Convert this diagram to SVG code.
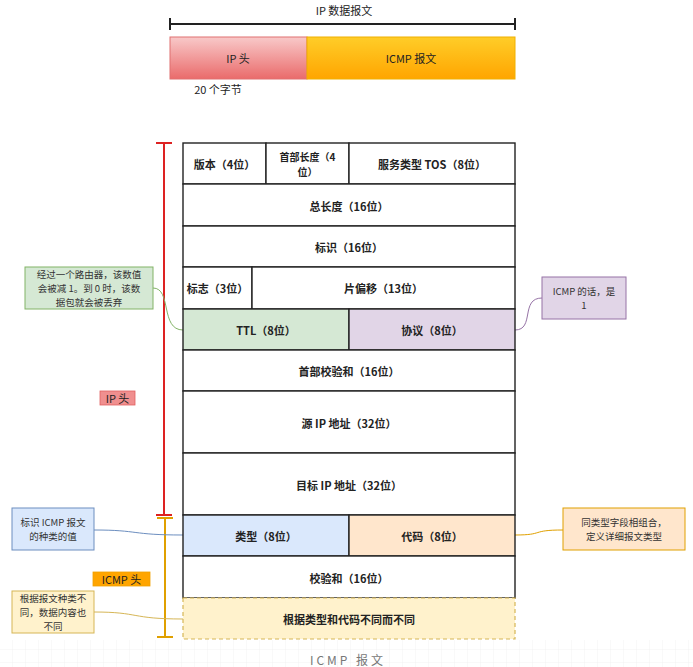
<svg xmlns="http://www.w3.org/2000/svg" width="693" height="667" viewBox="0 0 693 667">
<defs>
<linearGradient id="gRed" x1="0" y1="0" x2="0" y2="1"><stop offset="0" stop-color="#f8c9c9"/><stop offset="1" stop-color="#ea6b6b"/></linearGradient>
<linearGradient id="gOrg" x1="0" y1="0" x2="0" y2="1"><stop offset="0" stop-color="#ffcd28"/><stop offset="1" stop-color="#ffa500"/></linearGradient>
<pattern id="grid" width="13" height="13" patternUnits="userSpaceOnUse"><path d="M13 0V13H0" fill="none" stroke="#f2f2f2" stroke-width="1"/></pattern>
<style>
text{font-family:"Noto Sans CJK SC","Liberation Sans",sans-serif;fill:#222;font-size:11px;text-anchor:middle;dominant-baseline:central}
.b{font-weight:bold}
.s{font-size:10px}
.n{font-size:9.5px;fill:#333}
.cell{stroke:#222;stroke-width:1.4}
.note{stroke-width:1}
.conn{fill:none;stroke-width:1}
</style>
</defs>
<rect x="0" y="640" width="693" height="27" fill="url(#grid)"/>
<g id="top">
<text x="344" y="10">IP 数据报文</text>
<path d="M170 24H515M170 18V30M515 18V30" stroke="#222" stroke-width="2" fill="none"/>
<rect x="170" y="37" width="137" height="42" fill="url(#gRed)" stroke="#e07070"/>
<rect x="307" y="37" width="208" height="42" fill="url(#gOrg)" stroke="#f0b000"/>
<text x="238" y="58">IP 头</text>
<text x="411" y="58">ICMP 报文</text>
<text x="218" y="89">20 个字节</text>
</g>
<g id="brackets">
<path d="M164 143V515M156 143H172M156 515H172" stroke="#d22" stroke-width="2" fill="none"/>
<path d="M165 518V637M157 518H173M157 637H173" stroke="#e0a000" stroke-width="2" fill="none"/>
<rect x="100" y="391" width="35" height="14" fill="#f08f8f" stroke="#e06060" stroke-width="0.8"/>
<text x="117.5" y="398">IP 头</text>
<rect x="93" y="572" width="57" height="14" fill="#ffa500" stroke="#f0a000" stroke-width="0.8"/>
<text x="121.5" y="579">ICMP 头</text>
</g>
<g id="connectors">
<path class="conn" d="M153 288C172 288 160 330 183 330" stroke="#82b366"/>
<path class="conn" d="M542 298C520 298 535 330 515 330" stroke="#9673a6"/>
<path class="conn" d="M94 530C140 530 130 535 183 535" stroke="#6c8ebf"/>
<path class="conn" d="M94 612C140 612 130 619 183 619" stroke="#d6b656"/>
<path class="conn" d="M563 530C530 530 545 535 515 535" stroke="#e0a000"/>
</g>
<g id="ip-header">
<g id="n-version"><rect class="cell" x="183" y="143" width="83" height="41" fill="#fff"/><text class="b" x="224.5" y="164">版本（4位）</text></g>
<g id="n-ihl"><rect class="cell" x="266" y="143" width="83" height="41" fill="#fff"/><text class="b s" x="307.5" y="156">首部长度（4</text><text class="b s" x="307.5" y="171.5">位）</text></g>
<g id="n-tos"><rect class="cell" x="349" y="143" width="166" height="41" fill="#fff"/><text class="b" x="432" y="164">服务类型 TOS（8位）</text></g>
<g id="n-len"><rect class="cell" x="183" y="184" width="332" height="42" fill="#fff"/><text class="b" x="349" y="206">总长度（16位）</text></g>
<g id="n-id"><rect class="cell" x="183" y="226" width="332" height="41" fill="#fff"/><text class="b" x="349" y="247">标识（16位）</text></g>
<g id="n-flags"><rect class="cell" x="183" y="267" width="69" height="42" fill="#fff"/><text class="b" x="217.5" y="288">标志（3位）</text></g>
<g id="n-frag"><rect class="cell" x="252" y="267" width="263" height="42" fill="#fff"/><text class="b" x="383.5" y="288">片偏移（13位）</text></g>
<g id="n-ttl"><rect class="cell" x="183" y="309" width="166" height="41" fill="#d5e8d4" stroke="#82b366"/><text class="b" x="266" y="330">TTL（8位）</text></g>
<g id="n-proto"><rect class="cell" x="349" y="309" width="166" height="41" fill="#e1d5e7" stroke="#9673a6"/><text class="b" x="432" y="330">协议（8位）</text></g>
<g id="n-hcs"><rect class="cell" x="183" y="350" width="332" height="41" fill="#fff"/><text class="b" x="349" y="371">首部校验和（16位）</text></g>
<g id="n-src"><rect class="cell" x="183" y="391" width="332" height="62" fill="#fff"/><text class="b" x="349" y="423">源 IP 地址（32位）</text></g>
<g id="n-dst"><rect class="cell" x="183" y="453" width="332" height="62" fill="#fff"/><text class="b" x="349" y="485">目标 IP 地址（32位）</text></g>
</g>
<g id="icmp">
<g id="n-type"><rect class="cell" x="183" y="515" width="166" height="41" fill="#dae8fc" stroke="#6c8ebf"/><text class="b" x="266" y="536">类型（8位）</text></g>
<g id="n-code"><rect class="cell" x="349" y="515" width="166" height="41" fill="#ffe6cc" stroke="#e0a000"/><text class="b" x="432" y="536">代码（8位）</text></g>
<g id="n-cs"><rect class="cell" x="183" y="556" width="332" height="42" fill="#fff"/><text class="b" x="349" y="578">校验和（16位）</text></g>
<g id="n-data"><rect x="183" y="598" width="332" height="41" fill="#fff2cc" stroke="#d6b656" stroke-width="1.2" stroke-dasharray="4 3"/><text class="b" x="349" y="619">根据类型和代码不同而不同</text></g>
</g>
<g id="notes">
<g id="note-ttl"><rect class="note" x="25" y="267" width="128" height="42" fill="#d5e8d4" stroke="#82b366"/><text class="n" x="89" y="274">经过一个路由器，该数值</text><text class="n" x="89" y="288">会被减 1。到 0 时，该数</text><text class="n" x="89" y="302">据包就会被丢弃</text></g>
<g id="note-proto"><rect class="note" x="542" y="277" width="84" height="42" fill="#e1d5e7" stroke="#9673a6"/><text class="n" x="584" y="291">ICMP 的话，是</text><text class="n" x="584" y="305">1</text></g>
<g id="note-type"><rect class="note" x="12" y="508" width="82" height="42" fill="#dae8fc" stroke="#6c8ebf"/><text class="n" x="53" y="522">标识 ICMP 报文</text><text class="n" x="53" y="536">的种类的值</text></g>
<g id="note-data"><rect class="note" x="12" y="591" width="82" height="42" fill="#fff2cc" stroke="#d6b656"/><text class="n" x="53" y="598">根据报文种类不</text><text class="n" x="53" y="612">同，数据内容也</text><text class="n" x="53" y="626">不同</text></g>
<g id="note-code"><rect class="note" x="563" y="508" width="122" height="42" fill="#ffe6cc" stroke="#e0a000"/><text class="n" x="624" y="522">同类型字段相组合，</text><text class="n" x="624" y="536">定义详细报文类型</text></g>
</g>
<text x="348" y="659" style="fill:#777;letter-spacing:3px;font-size:12px">ICMP 报文</text>
</svg>
